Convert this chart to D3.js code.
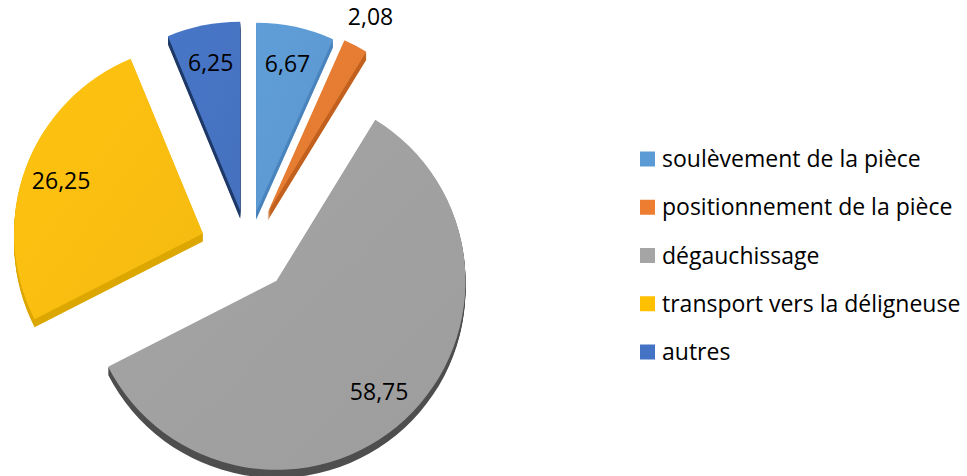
<!DOCTYPE html>
<html>
<head>
<meta charset="utf-8">
<script src="https://d3js.org/d3.v7.min.js"></script>
<style>
  body { margin: 0; background: #fff; }
  text { font-family: "Open Sans", sans-serif; fill: #000; }
</style>
</head>
<body>
<script>
var categories = ["soulèvement de la pièce", "positionnement de la pièce", "dégauchissage", "transport vers la déligneuse", "autres"];
var values = [6.67, 2.08, 58.75, 26.25, 6.25];
var labels = ["6,67", "2,08", "58,75", "26,25", "6,25"];

var colors = ["#5b9bd5", "#ed7d31", "#a5a5a5", "#ffc000", "#4472c4"];
var topColors = ["#5d9ad3", "#e47c32", "#a0a0a0", "#f9be10", "#4673c2"];
var sideColors = ["#4a84bd", "#c2611f", "#4f4f4f", "#dca700", "#1f3a68"];

var width = 967, height = 476;
var cx = 248, cy = 250, r = 189, depth = 8;
var explode = [39, 42, 42, 48, 40];

var svg = d3.select("body").append("svg")
    .attr("width", width)
    .attr("height", height);

var pie = d3.pie().sort(null).value(d => d);
var arcs = pie(values);
var arc = d3.arc().innerRadius(0).outerRadius(r);

function mid(d) { return (d.startAngle + d.endAngle) / 2; }
function origin(d, i) {
  var a = mid(d);
  return [cx + explode[i] * Math.sin(a), cy - explode[i] * Math.cos(a)];
}

// top face gradients
var defs = svg.append("defs");
arcs.forEach(function(d, i) {
  var grad = defs.append("linearGradient")
      .attr("id", "g" + i)
      .attr("x1", "0%").attr("y1", "0%")
      .attr("x2", "100%").attr("y2", "100%");
  grad.append("stop").attr("offset", "0%").attr("stop-color", d3.color(topColors[i]).brighter(0.08));
  grad.append("stop").attr("offset", "100%").attr("stop-color", d3.color(topColors[i]).darker(0.06));
});

// extruded sides
var sides = svg.append("g");
arcs.forEach(function(d, i) {
  var o = origin(d, i);
  sides.selectAll(null)
    .data(d3.range(depth, 0, -1))
    .enter()
    .append("path")
      .attr("d", arc(d))
      .attr("transform", k => "translate(" + o[0] + "," + (o[1] + k) + ")")
      .style("fill", sideColors[i]);
});

// top faces
svg.append("g").selectAll("path")
  .data(arcs)
  .enter()
  .append("path")
    .attr("d", arc)
    .attr("transform", (d, i) => "translate(" + origin(d, i) + ")")
    .style("fill", (d, i) => "url(#g" + i + ")");

// data labels
svg.append("g").selectAll("text")
  .data(arcs)
  .enter()
  .append("text")
    .attr("transform", function(d, i) {
      var o = origin(d, i);
      var lr = values[i] < 5 ? r * 1.17 : r * 0.8;
      var a = mid(d);
      return "translate(" + (o[0] + lr * Math.sin(a)) + "," + (o[1] - lr * Math.cos(a)) + ")";
    })
    .attr("text-anchor", "middle")
    .attr("dy", "0.35em")
    .style("font-size", "23px")
    .text((d, i) => labels[i]);

// legend
var legend = svg.append("g")
    .attr("transform", "translate(640,159)");

var item = legend.selectAll("g")
  .data(categories)
  .enter()
  .append("g")
    .attr("transform", (d, i) => "translate(0," + (i * 48.25) + ")");

item.append("rect")
    .attr("x", 0)
    .attr("y", -7.5)
    .attr("width", 15)
    .attr("height", 15)
    .style("fill", (d, i) => colors[i]);

item.append("text")
    .attr("x", 22)
    .attr("dy", "0.35em")
    .style("font-size", "23px")
    .text(d => d);
</script>
</body>
</html>
